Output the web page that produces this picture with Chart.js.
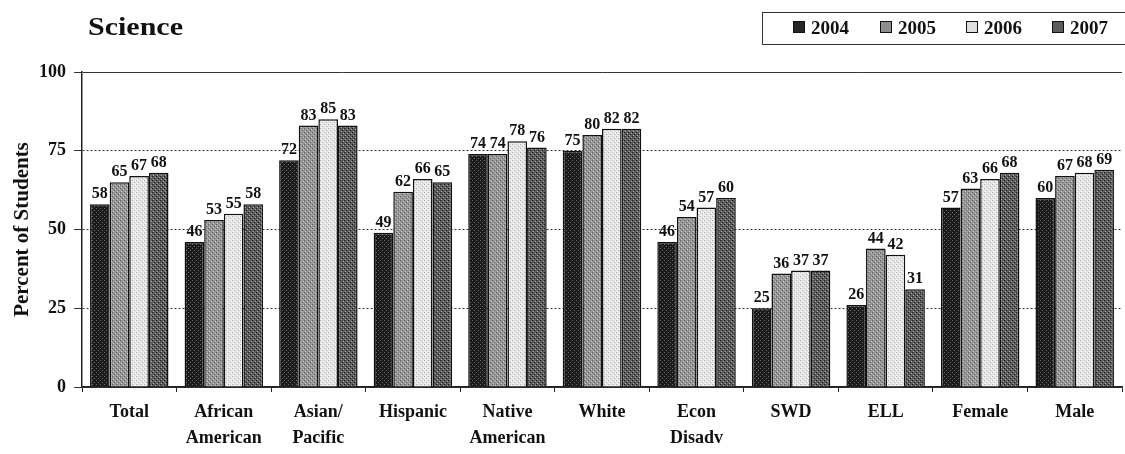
<!DOCTYPE html>
<html>
<head>
<meta charset="utf-8">
<script src="https://cdn.jsdelivr.net/npm/chart.js@4.4.1/dist/chart.umd.min.js"></script>
<style>
  body { margin: 0; background: #fff; }
  #wrap { position: relative; width: 1125px; height: 454px; }
  #title { position: absolute; left: 88px; top: 13px; font: bold 25px "Liberation Serif", serif; color: #111;
           transform: scaleX(1.2); transform-origin: left top; }
  #legend { position: absolute; left: 762px; top: 12px; width: 362px; height: 31px; border: 1px solid #333; border-right: none;
            font: bold 19px "Liberation Serif", serif; color: #111; }
  #legend span.item { position: absolute; top: 4px; }
  #legend i { display: inline-block; width: 10px; height: 10px; border: 1px solid #111; margin-right: 6px; vertical-align: 1px; }
</style>
</head>
<body>
<div id="wrap">
  <canvas id="chart" width="1125" height="454"></canvas>
  <div id="title">Science</div>
  <div id="legend"></div>
</div>
<script>
const categories = [
    'Total', ['African', 'American'], ['Asian/', 'Pacific'], 'Hispanic', ['Native', 'American'],
    'White', ['Econ', 'Disadv'], 'SWD', 'ELL', 'Female', 'Male'
];
const years = ['2004', '2005', '2006', '2007'];
const values2004 = [58, 46, 72, 49, 74, 75, 46, 25, 26, 57, 60];
const values2005 = [65, 53, 83, 62, 74, 80, 54, 36, 44, 63, 67];
const values2006 = [67, 55, 85, 66, 78, 82, 57, 37, 42, 66, 68];
const values2007 = [68, 58, 83, 65, 76, 82, 60, 37, 31, 68, 69];
const yTicks = [0, 25, 50, 75, 100];

const colors = ['#262626', '#8e8e8e', '#dedede', '#5c5c5c'];
const serif = '"Liberation Serif", "Times New Roman", serif';

// stippled fills, a bit like the scanned print
function stipple(base, dot, dot2) {
    const c = document.createElement('canvas');
    c.width = 4; c.height = 4;
    const g = c.getContext('2d');
    g.fillStyle = base;
    g.fillRect(0, 0, 4, 4);
    g.fillStyle = dot;
    g.fillRect(0, 0, 1, 1);
    g.fillRect(2, 2, 1, 1);
    if (dot2) {
        g.fillStyle = dot2;
        g.fillRect(3, 1, 1, 1);
        g.fillRect(1, 3, 1, 1);
    }
    return g.createPattern(c, 'repeat');
}
const fills = [
    stipple('#1c1c1c', '#6a6a6a'),
    stipple('#979797', '#5e5e5e', '#c4c4c4'),
    stipple('#e6e6e6', '#b0b0b0', '#ffffff'),
    stipple('#5a5a5a', '#1e1e1e', '#a8a8a8')
];

// build legend
const legend = document.getElementById('legend');
const legendLeft = [30, 117, 203, 289];
years.forEach((y, i) => {
    const s = document.createElement('span');
    s.className = 'item';
    s.style.left = legendLeft[i] + 'px';
    s.innerHTML = '<i style="background:' + colors[i] + '"></i>' + y;
    legend.appendChild(s);
});

// value labels above bars
const barLabels = {
    id: 'barLabels',
    afterDatasetsDraw(chart) {
        const ctx = chart.ctx;
        ctx.save();
        ctx.font = 'bold 16px ' + serif;
        ctx.fillStyle = '#111';
        ctx.textAlign = 'center';
        ctx.textBaseline = 'bottom';
        chart.data.datasets.forEach((ds, i) => {
            chart.getDatasetMeta(i).data.forEach((bar, j) => {
                ctx.fillText(ds.data[j], bar.x, bar.y - 2);
            });
        });
        ctx.restore();
    }
};

const allValues = [values2004, values2005, values2006, values2007];

new Chart(document.getElementById('chart'), {
    type: 'bar',
    data: {
        labels: categories,
        datasets: years.map((y, i) => ({
            label: y,
            data: allValues[i],
            backgroundColor: fills[i],
            borderColor: '#111',
            borderWidth: 1.5,
            barPercentage: 1,
            categoryPercentage: 0.83
        }))
    },
    options: {
        responsive: false,
        animation: false,
        layout: { padding: { top: 72, right: 3, left: 8, bottom: 0 } },
        plugins: { legend: { display: false }, tooltip: { enabled: false } },
        scales: {
            x: {
                afterFit: s => { s.height = 67; },
                grid: { drawOnChartArea: false, tickLength: 5, color: '#222', offset: true },
                border: { color: '#222', width: 1.5 },
                ticks: { color: '#111', font: { family: serif, size: 18, weight: 'bold', lineHeight: 1.45 }, maxRotation: 0, autoSkip: false, padding: 7 }
            },
            y: {
                min: 0, max: 100,
                afterFit: s => { s.width = 74; },
                afterBuildTicks: s => { s.ticks = yTicks.map(v => ({ value: v })); },
                grid: {
                    color: '#333',
                    lineWidth: 1,
                    tickLength: 8
                },
                border: {
                    color: '#222', width: 1.5,
                    dash: c => (c.tick && c.tick.value > 0 && c.tick.value < 100) ? [2, 2] : []
                },
                ticks: { color: '#111', font: { family: serif, size: 18, weight: 'bold' }, padding: 8 },
                title: { display: true, text: 'Percent of Students', color: '#111', font: { family: serif, size: 21, weight: 'bold' }, padding: 2 }
            }
        }
    },
    plugins: [barLabels]
});
</script>
</body>
</html>
